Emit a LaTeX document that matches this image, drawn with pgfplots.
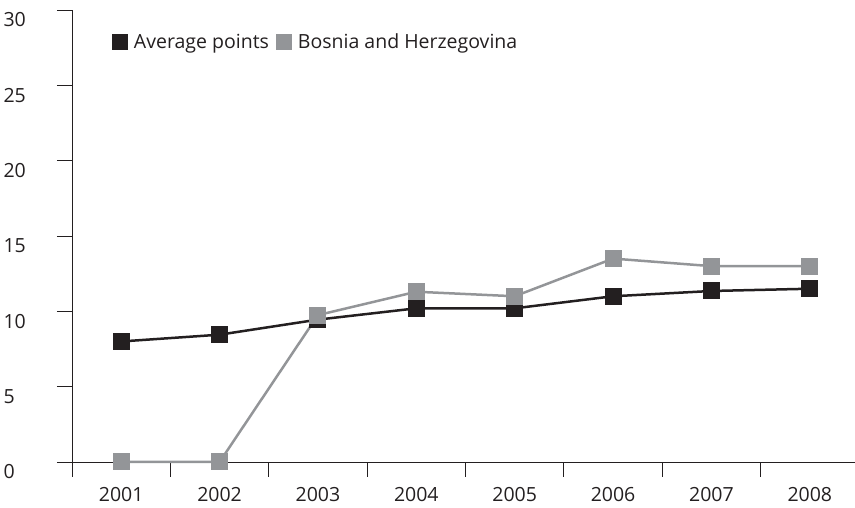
\documentclass[border=0pt]{standalone}
\usepackage{fontspec}
\setmainfont{Open Sans}
\usepackage{pgfplots}
\pgfplotsset{compat=1.18}
\definecolor{cblack}{HTML}{231F20}
\definecolor{cgray}{HTML}{939598}
\begin{document}
\begin{tikzpicture}[x=1pt,y=1pt]
\useasboundingbox (0,0) rectangle (855,508);
\begin{axis}[
  at={(72pt,46pt)}, anchor=south west,
  scale only axis, width=787pt, height=452pt,
  xmin=-0.5, xmax=7.5, ymin=0, ymax=30,
  axis lines=left,
  axis line style={-, line width=0.9pt, draw=cblack},
  tick align=outside,
  major tick length=15pt,
  tick style={line width=0.9pt, draw=cblack},
  ytick={0,5,...,30},
  yticklabel style={anchor=west, xshift=-57pt, yshift=-10pt, font=\fontsize{19.5}{23}\selectfont, text=cblack},
  /pgf/number format/assume math mode=true,
  xtick={-0.5,0.5,...,7.5},
  x tick label as interval,
  xticklabels={2001,2002,2003,2004,2005,2006,2007,2008},
  xticklabel style={yshift=-9pt, inner sep=1pt, font=\fontsize{19.5}{23}\selectfont, text=cblack},
  clip=false,
  legend style={draw=none, fill=none, at={(0.048,0.93)}, anchor=west,
    font=\fontsize{19.5}{23}\selectfont, text=cblack,
    /tikz/every even column/.append style={column sep=6pt}},
  legend columns=-1,
  legend image code/.code={\path[draw=none] (0pt,0pt) (19pt,0pt); \draw[#1, mark size=7.5pt] plot coordinates {(7.5pt,0pt)};},
]
\addplot[cblack, line width=2.5pt, mark=square*, mark size=8pt, mark options={solid, fill=cblack, draw=cblack, line width=0pt}]
  coordinates {(0,8.0) (1,8.45) (2,9.45) (3,10.2) (4,10.2) (5,11.0) (6,11.35) (7,11.5)};
\addlegendentry{Average points}
\addplot[cgray, line width=2.5pt, mark=square*, mark size=8pt, mark options={solid, fill=cgray, draw=cgray, line width=0pt}]
  coordinates {(0,0) (1,0) (2,9.75) (3,11.3) (4,11.0) (5,13.5) (6,13.0) (7,13.0)};
\addlegendentry{Bosnia and Herzegovina}
\end{axis}
\end{tikzpicture}
\end{document}
